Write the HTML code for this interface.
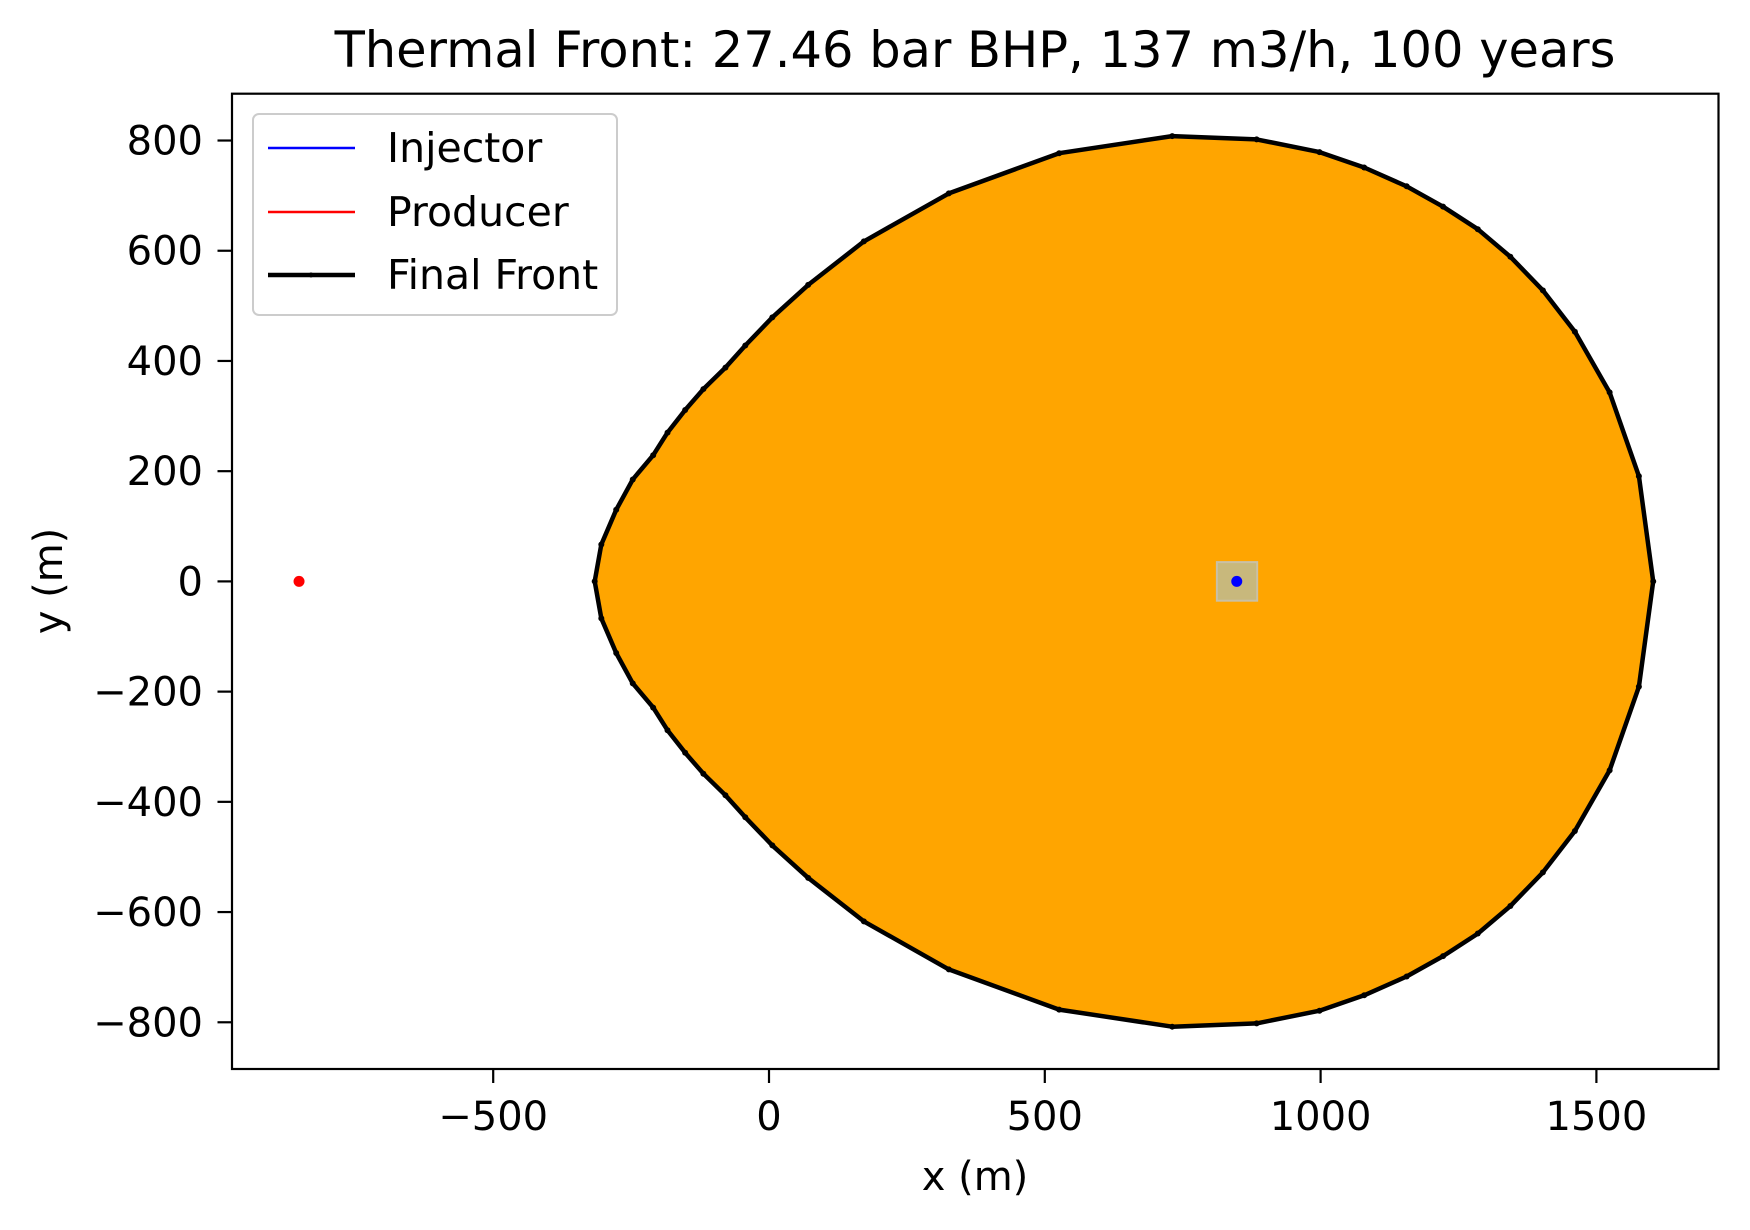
<!DOCTYPE html>
<html><head><meta charset="utf-8"><style>
html,body{margin:0;padding:0;background:#fff;}
svg{display:block;font-family:"DejaVu Sans","Liberation Sans",sans-serif;}
</style></head><body>
<svg id="chart" width="1750" height="1230" viewBox="0 0 1750 1230">
<rect width="1750" height="1230" fill="#fff"/>
<text x="975" y="67" text-anchor="middle" font-size="49.5">Thermal Front: 27.46 bar BHP, 137 m3/h, 100 years</text>
<g id="plot"></g>
<rect x="232" y="93.7" width="1486.5" height="975.3" fill="none" stroke="#000" stroke-width="2.2"/>
<g id="ticks"></g>
<text x="975" y="1190" text-anchor="middle" font-size="40">x (m)</text>
<text transform="translate(62,581) rotate(-90)" text-anchor="middle" font-size="40">y (m)</text>
<g>
<rect x="253" y="114" width="364" height="201" rx="6" fill="#fff" fill-opacity="0.8" stroke="#ccc" stroke-width="2"/>
<line x1="268" y1="148" x2="355" y2="148" stroke="#0000ff" stroke-width="2.5"/>
<text x="387" y="162" font-size="41">Injector</text>
<line x1="268" y1="212" x2="355" y2="212" stroke="#ff0000" stroke-width="2.5"/>
<text x="387" y="226" font-size="41">Producer</text>
<line x1="268" y1="275" x2="355" y2="275" stroke="#000" stroke-width="4.5"/>
<circle cx="311" cy="275" r="2.5" fill="#000"/>
<text x="387" y="289" font-size="41">Final Front</text>
</g>
</svg>
<script>
const frontX = [-316,-304,-277,-247,-210,-184,-152,-119,-79,-43,6,71,172,326,526,731,884,998,1079,1156,1222,1285,1344,1403,1461,1524,1577,1603];
const frontY = [0,67,130,185,229,270,311,349,388,428,479,538,617,704,777,808,802,779,751,717,680,639,589,528,453,343,191,0];
const injector = [848, 0];
const producer = [-852, 0];
const xTicks = [-500,0,500,1000,1500];
const yTicks = [-800,-600,-400,-200,0,200,400,600,800];
const xTickLabels = ["\u2212500","0","500","1000","1500"];
const yTickLabels = ["\u2212800","\u2212600","\u2212400","\u2212200","0","200","400","600","800"];

const NS = "http://www.w3.org/2000/svg";
const xs = v => 769 + v * 0.5516;
const ys = v => 581.4 - v * 0.5511;
function mk(tag, attrs, parent){const e=document.createElementNS(NS,tag);for(const k in attrs)e.setAttribute(k,attrs[k]);parent.appendChild(e);return e;}
const plot = document.getElementById('plot');
const ticks = document.getElementById('ticks');

const px=[],py=[];
for(let i=0;i<frontX.length;i++){px.push(frontX[i]);py.push(frontY[i]);}
for(let i=frontX.length-2;i>=1;i--){px.push(frontX[i]);py.push(-frontY[i]);}
const pts = px.map((x,i)=>xs(x).toFixed(1)+","+ys(py[i]).toFixed(1)).join(" ");
const poly = mk('polygon',{points:pts,fill:'#ffa500',stroke:'none'},plot);



const box = mk('rect',{x:xs(injector[0]-36),y:ys(injector[1]+35),width:73*0.5516,height:70*0.5511,fill:'#c8b87c',stroke:'#c9c0a6','stroke-width':2},plot);



const line = mk('polygon',{points:pts,fill:'none',stroke:'#000','stroke-width':4.5,'stroke-linejoin':'round'},plot);


px.forEach((x,i)=>{
  const c = mk('circle',{cx:xs(x),cy:ys(py[i]),r:3,fill:'#000'},plot);
  
  
});
const inj = mk('circle',{cx:xs(injector[0]),cy:ys(injector[1]),r:5.5,fill:'#0000ff'},plot);


const prod = mk('circle',{cx:xs(producer[0]),cy:ys(producer[1]),r:5.5,fill:'#ff0000'},plot);



xTicks.forEach((v,i)=>{
  const l = mk('line',{x1:xs(v),x2:xs(v),y1:1069,y2:1083,stroke:'#000','stroke-width':2.2},ticks);
  
  
  const t = mk('text',{x:xs(v),y:1130,'text-anchor':'middle','font-size':40},ticks);
  t.textContent = xTickLabels[i];
  
  
});
yTicks.forEach((v,i)=>{
  const l = mk('line',{x1:217.5,x2:232,y1:ys(v),y2:ys(v),stroke:'#000','stroke-width':2.2},ticks);
  
  
  const t = mk('text',{x:203,y:ys(v)+14,'text-anchor':'end','font-size':40},ticks);
  t.textContent = yTickLabels[i];
  
  
});
</script>
</body></html>
